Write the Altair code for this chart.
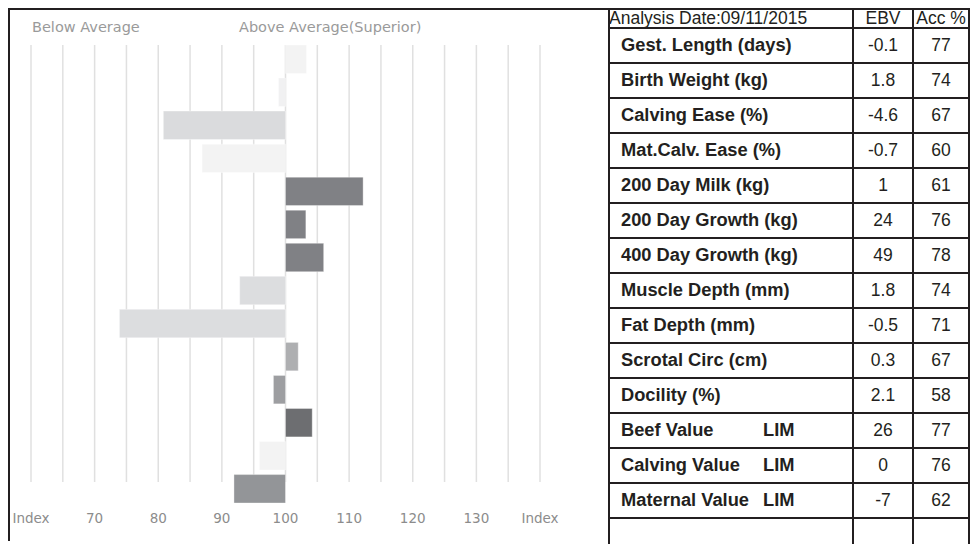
import altair as alt
import pandas as pd

# ---------------- data ----------------
analysis_date = "Analysis Date:09/11/2015"
traits = ["Gest. Length (days)", "Birth Weight (kg)", "Calving Ease (%)", "Mat.Calv. Ease (%)",
          "200 Day Milk (kg)", "200 Day Growth (kg)", "400 Day Growth (kg)", "Muscle Depth (mm)",
          "Fat Depth (mm)", "Scrotal Circ (cm)", "Docility (%)", "Beef Value", "Calving Value",
          "Maternal Value"]
breed_tag = ["", "", "", "", "", "", "", "", "", "", "", "LIM", "LIM", "LIM"]
ebv = ["-0.1", "1.8", "-4.6", "-0.7", "1", "24", "49", "1.8", "-0.5", "0.3", "2.1", "26", "0", "-7"]
acc = ["77", "74", "67", "60", "61", "76", "78", "74", "71", "67", "58", "77", "76", "62"]
index_values = [103.3, 98.9, 80.8, 86.9, 112.2, 103.2, 106.0, 92.8, 73.9, 102.0, 98.1, 104.2, 95.9, 91.9]
grid_values = [60, 65, 70, 75, 80, 85, 90, 95, 100, 105, 110, 115, 120, 125, 130, 135, 140]
tick_values = [60, 70, 80, 90, 100, 110, 120, 130, 140]
tick_labels = ["Index", "70", "80", "90", "100", "110", "120", "130", "Index"]
headings = ["Below Average", "Above Average(Superior)"]

# ---------------- styles ----------------
bar_colors = ["#f3f3f3", "#f1f1f2", "#dadbdd", "#f3f3f3", "#808185", "#808185", "#808185",
              "#dcdddf", "#dcdddf", "#aeafb1", "#9d9ea1", "#6d6e71", "#f3f3f3", "#939598"]
INK = "#231f20"
GREY_TXT = "#9a9a9a"
LEFT_FONT = "DejaVu Sans"
TABLE_FONT = "Liberation Sans"

x_scale = alt.Scale(domain=[60, 140], range=[23, 532], zero=False, nice=False)
y_band = alt.Scale(domain=traits, range=[37, 495], paddingInner=0.14, paddingOuter=0)
row_scale = alt.Scale(domain=[0, 14], range=[20, 510], zero=False, nice=False)

bars_df = pd.DataFrame({"trait": traits, "index": index_values})
grid_df = pd.DataFrame({"v": grid_values})
ticks_df = pd.DataFrame({"v": tick_values, "label": tick_labels})
table_df = pd.DataFrame({
    "trait": traits,
    "breed": breed_tag,
    "ebv": ebv,
    "acc": acc,
    "row": [i + 0.5 for i in range(len(traits))],
})
bounds_df = pd.DataFrame({"b": list(range(len(traits) + 1))})
one = pd.DataFrame({"k": [0]})

grid = alt.Chart(grid_df).mark_rule(color="#e0e0e0", strokeWidth=1.5).encode(
    x=alt.X("v:Q", scale=x_scale, axis=None),
    y=alt.value(37), y2=alt.value(474),
)

bars = alt.Chart(bars_df).mark_bar(stroke="white", strokeOpacity=0.35, strokeWidth=1).encode(
    x=alt.X("index:Q", scale=x_scale, axis=None),
    x2=alt.datum(100),
    y=alt.Y("trait:N", scale=y_band, sort=traits, axis=None),
    color=alt.Color("trait:N", scale=alt.Scale(domain=traits, range=bar_colors), legend=None),
)

tick_text = alt.Chart(ticks_df).mark_text(font=LEFT_FONT, fontSize=13.5, color="#8c8c8c",
                                          baseline="middle", align="center").encode(
    x=alt.X("v:Q", scale=x_scale, axis=None),
    y=alt.value(511),
    text="label:N",
)

head1 = alt.Chart(one).mark_text(text=headings[0], font=LEFT_FONT, fontSize=14.5, color=GREY_TXT,
                                 align="left", baseline="middle").encode(x=alt.value(24), y=alt.value(20))
head2 = alt.Chart(one).mark_text(text=headings[1], font=LEFT_FONT, fontSize=14.5, color=GREY_TXT,
                                 align="left", baseline="middle").encode(x=alt.value(231), y=alt.value(20))

# ---------------- table ----------------
def vline(x, y1=0, y2=536, w=2):
    return alt.Chart(one).mark_rule(color=INK, strokeWidth=w).encode(
        x=alt.value(x), y=alt.value(y1), y2=alt.value(y2))

def hline(y, x1, x2, w=2):
    return alt.Chart(one).mark_rule(color=INK, strokeWidth=w).encode(
        y=alt.value(y), x=alt.value(x1), x2=alt.value(x2))

frame = [hline(1, 0, 962), vline(1, 0, 533), vline(601), vline(845), vline(905), vline(961)]

hlines = alt.Chart(bounds_df).mark_rule(color=INK, strokeWidth=2).encode(
    y=alt.Y("b:Q", scale=row_scale, axis=None),
    x=alt.value(601), x2=alt.value(961),
)

hdr_date = alt.Chart(one).mark_text(text=analysis_date, font=TABLE_FONT, fontSize=17.5, color=INK,
                                    align="left", baseline="middle").encode(x=alt.value(601), y=alt.value(11))
hdr_ebv = alt.Chart(one).mark_text(text="EBV", font=TABLE_FONT, fontSize=17.5, color=INK,
                                   align="center", baseline="middle").encode(x=alt.value(875), y=alt.value(11))
hdr_acc = alt.Chart(one).mark_text(text="Acc %", font=TABLE_FONT, fontSize=17.5, color=INK,
                                   align="center", baseline="middle").encode(x=alt.value(933), y=alt.value(11))

def table_col(field, x, align, bold, size):
    return alt.Chart(table_df).mark_text(font=TABLE_FONT, fontSize=size, color=INK, align=align,
                                         baseline="middle",
                                         fontWeight="bold" if bold else "normal").encode(
        x=alt.value(x),
        y=alt.Y("row:Q", scale=row_scale, axis=None),
        text=f"{field}:N",
    )

labels = table_col("trait", 613, "left", True, 18.3)
breeds = table_col("breed", 755, "left", True, 18.3)
ebvs = table_col("ebv", 875, "center", False, 17.5)
accs = table_col("acc", 933, "center", False, 17.5)

chart = alt.layer(
    grid, bars, tick_text, head1, head2, hlines, *frame,
    hdr_date, hdr_ebv, hdr_acc, labels, breeds, ebvs, accs,
).resolve_scale(x="independent", y="independent", color="independent").properties(
    width=964, height=536, autosize=alt.AutoSizeParams(type="none"), padding=0,
    background="white",
).configure_view(stroke=None)

chart.save("out.html", embed_options={"renderer": "svg", "actions": False})
